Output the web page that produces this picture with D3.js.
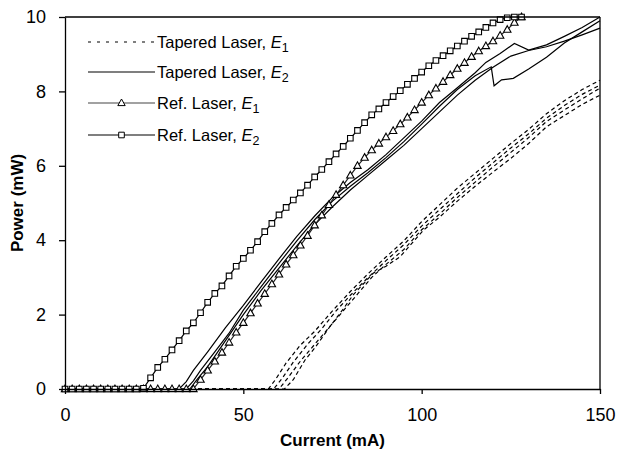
<!DOCTYPE html>
<html>
<head>
<meta charset="utf-8">
<script src="https://cdn.jsdelivr.net/npm/d3@7"></script>
<style>
  html, body { margin: 0; padding: 0; background: #fff; }
  svg { display: block; font-family: "Liberation Sans", Arial, sans-serif; }
</style>
</head>
<body>
<svg id="chart" width="621" height="452"></svg>
<script>
// ---------------- data ----------------
const xTicks = [0, 50, 100, 150];
const yTicks = [0, 2, 4, 6, 8, 10];

const refCurrent = [0,2,4,6,8,10,12,14,16,18,20,22,24,26,28,30,32,34,36,38,40,42,44,46,48,50,52,54,56,58,60,62,64,66,68,70,72,74,76,78,80,82,84,86,88,90,92,94,96,98,100,102,104,106,108,110,112,114,116,118,120,122,124,126,128];

const refE2Power = [0,0,0,0,0,0,0,0,0,0,0,
  0.02,0.3,0.58,0.8,1.05,1.3,1.56,1.78,2.05,2.33,
  2.57,2.77,3.04,3.3,3.51,3.73,3.96,4.23,4.45,4.68,
  4.88,5.08,5.27,5.48,5.7,5.9,6.11,6.32,6.52,6.74,
  6.95,7.16,7.37,7.53,7.7,7.86,8.02,8.19,8.35,8.52,
  8.69,8.83,8.96,9.09,9.22,9.35,9.48,9.6,9.72,9.84,
  9.93,9.98,10,10];

const refE1Power = [0,0,0,0,0,0,0,0,0,0,0,0,0,0,0,0,0,0,0,
  0.25,0.5,0.74,0.98,1.25,1.52,1.78,2.04,2.3,2.56,
  2.82,3.08,3.35,3.6,3.86,4.12,4.4,4.67,4.95,5.22,
  5.48,5.74,6.0,6.22,6.42,6.6,6.77,6.94,7.12,7.3,
  7.5,7.7,7.9,8.08,8.26,8.44,8.61,8.77,8.93,9.08,
  9.22,9.35,9.5,9.66,9.85,10];

// Tapered laser, E1 (dashed) : [current mA, power mW]
const taperedE1a = [[0,0],[57,0],[59,0.25],[62,0.7],[66,1.18],[70,1.55],[75,2.1],[80,2.62],[85,3.1],[90,3.55],[95,3.98],[100,4.5],[105,4.95],[110,5.4],[115,5.8],[120,6.2],[125,6.6],[130,6.98],[135,7.4],[140,7.75],[145,8.05],[150,8.3]];
const taperedE1b = [[0,0],[58.5,0],[61,0.3],[64,0.72],[68,1.2],[72,1.62],[76,2.1],[80,2.52],[85,3.0],[90,3.45],[95,3.88],[100,4.38],[105,4.82],[110,5.25],[115,5.68],[120,6.08],[125,6.48],[130,6.86],[135,7.28],[140,7.62],[145,7.92],[150,8.17]];
const taperedE1c = [[0,0],[60,0],[62.5,0.3],[66,0.75],[70,1.2],[74,1.65],[78,2.1],[82,2.55],[86,3.0],[90,3.35],[95,3.75],[100,4.28],[105,4.7],[110,5.15],[115,5.56],[120,5.97],[125,6.36],[130,6.76],[135,7.19],[140,7.5],[145,7.8],[150,8.09]];
const taperedE1d = [[0,0],[61.5,0],[64,0.25],[67.3,0.78],[70,1.1],[74.3,1.68],[78,2.15],[80.8,2.53],[86.4,3.11],[90,3.3],[94,3.56],[100.5,4.27],[105,4.62],[110,5.05],[115,5.45],[120,5.83],[125,6.2],[130,6.6],[135,7.05],[140,7.35],[145,7.65],[150,7.9]];

// Tapered laser, E2 (solid)
const taperedE2a = [[0,0],[32,0],[34,0.2],[36,0.5],[40,1.0],[45,1.65],[50,2.25],[55,2.88],[60,3.5],[65,4.1],[70,4.65],[75,5.15],[80,5.55],[85,5.9],[90,6.3],[95,6.75],[100,7.2],[105,7.7],[110,8.1],[115,8.5],[118,8.78],[122,9.02],[126,9.29],[130,9.11],[135,9.25],[140,9.48],[145,9.72],[150,10.0]];
const taperedE2b = [[0,0],[34,0],[36,0.22],[38,0.5],[42,1.0],[46,1.5],[50,2.12],[55,2.75],[60,3.38],[65,3.98],[70,4.55],[75,5.05],[80,5.45],[85,5.82],[90,6.22],[95,6.65],[100,7.12],[105,7.6],[110,8.05],[115,8.42],[119.5,8.66],[120.3,8.15],[122.4,8.31],[125.7,8.35],[130,8.6],[135,8.92],[140,9.3],[145,9.6],[150,9.9]];
const taperedE2c = [[0,0],[35,0],[37,0.25],[40,0.6],[45,1.3],[50,2.0],[55,2.65],[60,3.25],[65,3.85],[70,4.42],[75,4.9],[80,5.35],[85,5.75],[90,6.15],[95,6.55],[100,7.0],[105,7.45],[110,7.9],[115,8.3],[120,8.65],[125,8.95],[130,9.1],[135,9.2],[140,9.35],[145,9.52],[150,9.7]];

const legendLabels = ["Tapered Laser, ", "Tapered Laser, ", "Ref. Laser, ", "Ref. Laser, "];
const legendSubs = ["1", "2", "1", "2"];

// ---------------- chart ----------------
const svg = d3.select("#chart");
const L = 65, R = 600, T = 17, B = 389;

const x = d3.scaleLinear().domain([0, 150]).range([L, R]);
const y = d3.scaleLinear().domain([0, 10]).range([B, T]);

const line = d3.line().x(d => x(d[0])).y(d => y(d[1]));

const plot = svg.append("g");

// dashed
[taperedE1a, taperedE1b, taperedE1c, taperedE1d].forEach(s => {
  plot.append("path").attr("d", line(s))
    .attr("fill", "none").attr("stroke", "#000").attr("stroke-width", 1.2)
    .attr("stroke-dasharray", "4,3");
});
// solid
[taperedE2a, taperedE2b, taperedE2c].forEach(s => {
  plot.append("path").attr("d", line(s))
    .attr("fill", "none").attr("stroke", "#000").attr("stroke-width", 1.2);
});

const refE1 = refCurrent.map((c, i) => [c, refE1Power[i]]);
const refE2 = refCurrent.map((c, i) => [c, refE2Power[i]]);

const triPath = "M0,-4L3.7,2.6L-3.7,2.6Z";
const sqPath = "M-2.8,-2.8H2.8V2.8H-2.8Z";

plot.append("path").attr("d", line(refE1))
  .attr("fill", "none").attr("stroke", "#222").attr("stroke-width", 1.2);
plot.selectAll(".tri").data(refE1).enter().append("path")
  .attr("class", "tri")
  .attr("transform", d => `translate(${x(d[0])},${y(d[1])})`)
  .attr("d", triPath).attr("fill", "#fff").attr("stroke", "#000").attr("stroke-width", 1.1);

plot.append("path").attr("d", line(refE2))
  .attr("fill", "none").attr("stroke", "#000").attr("stroke-width", 1.2);
plot.selectAll(".sq").data(refE2).enter().append("path")
  .attr("class", "sq")
  .attr("transform", d => `translate(${x(d[0])},${y(d[1])})`)
  .attr("d", sqPath).attr("fill", "#fff").attr("stroke", "#000").attr("stroke-width", 1.1);

// axes
const xAxis = d3.axisBottom(x).tickValues(xTicks).tickSize(5).tickSizeOuter(0).tickPadding(14);
const yAxis = d3.axisLeft(y).tickValues(yTicks).tickSize(6).tickSizeOuter(0).tickPadding(13);

const gx = svg.append("g").attr("transform", `translate(0,${B})`).call(xAxis);
const gy = svg.append("g").attr("transform", `translate(${L},0)`).call(yAxis);
[gx, gy].forEach(g => {
  g.selectAll("path.domain").attr("stroke", "#000").attr("stroke-width", 1.3);
  g.selectAll(".tick line").attr("stroke", "#000").attr("stroke-width", 1.3);
  g.selectAll(".tick text").attr("font-size", 18).attr("fill", "#000")
    .attr("font-family", "'Liberation Sans', Arial, sans-serif");
});

// frame top/right
svg.append("line").attr("x1", L).attr("x2", R).attr("y1", T).attr("y2", T)
  .attr("stroke", "#000").attr("stroke-width", 1.3);
svg.append("line").attr("x1", R).attr("x2", R).attr("y1", T).attr("y2", B)
  .attr("stroke", "#000").attr("stroke-width", 1.3);

// axis titles
svg.append("text").attr("x", (L + R) / 2).attr("y", 446)
  .attr("text-anchor", "middle").attr("font-size", 17).attr("font-weight", "bold")
  .text("Current (mA)");
svg.append("text").attr("transform", `translate(23,${(T + B) / 2}) rotate(-90)`)
  .attr("text-anchor", "middle").attr("font-size", 17).attr("font-weight", "bold")
  .text("Power (mW)");

// legend
const legY = [42, 72, 103, 135];
const lx1 = 88, lx2 = 155;
const leg = svg.append("g");
legendLabels.forEach((lab, i) => {
  const yy = legY[i];
  const ln = leg.append("line").attr("x1", lx1).attr("x2", lx2).attr("y1", yy).attr("y2", yy)
    .attr("stroke", i === 2 ? "#444" : "#000").attr("stroke-width", 1.2);
  if (i === 0) ln.attr("stroke-dasharray", "3,6");
  if (i === 2) leg.append("path").attr("transform", `translate(${(lx1 + lx2) / 2},${yy})`)
    .attr("d", triPath).attr("fill", "#fff").attr("stroke", "#000");
  if (i === 3) leg.append("path").attr("transform", `translate(${(lx1 + lx2) / 2},${yy})`)
    .attr("d", sqPath).attr("fill", "#fff").attr("stroke", "#000");
  const t = leg.append("text").attr("x", lx2 + 2).attr("y", yy + 6).attr("font-size", 16.5);
  t.append("tspan").text(lab);
  t.append("tspan").attr("font-style", "italic").text("E");
  t.append("tspan").attr("font-size", 12.5).attr("dy", 4).text(legendSubs[i]);
});
</script>
</body>
</html>
